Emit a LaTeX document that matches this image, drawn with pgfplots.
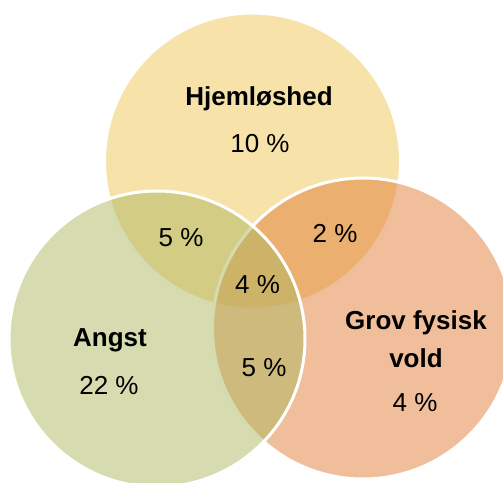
\documentclass[border=0pt]{standalone}
\usepackage{fontspec}
\setmainfont{Liberation Sans}
\usepackage{pgfplots}
\pgfplotsset{compat=1.18}
\definecolor{cHjem}{RGB}{239,197,85}
\definecolor{cGrov}{RGB}{225,125,55}
\definecolor{cAngst}{RGB}{173,183,97}
\begin{document}
\begin{tikzpicture}
\begin{axis}[
  name=ax,
  width=503pt, height=482pt, scale only axis,
  xmin=0, xmax=503, ymin=0, ymax=482,
  y dir=reverse,
  hide axis, clip=true,
]
% Hjemløshed
\filldraw[fill=cHjem, fill opacity=0.5, draw=white, line width=3pt]
  (axis cs:252.5,161) circle [radius=148];
% Grov fysisk vold
\filldraw[fill=cGrov, fill opacity=0.5, draw=white, line width=3pt]
  (axis cs:363,328.5) circle [radius=150.5];
% Angst
\filldraw[fill=cAngst, fill opacity=0.5, draw=white, line width=3pt]
  (axis cs:157,339) circle [radius=148];
\begin{scope}[every node/.style={font=\fontsize{26}{30}\selectfont, text=black, inner sep=0pt}]
\node at (axis cs:259,99) {\bfseries Hjemløshed};
\node at (axis cs:260,144) {10 \%};
\node at (axis cs:181,238) {5 \%};
\node at (axis cs:335,233) {2 \%};
\node at (axis cs:257.5,285) {4 \%};
\node at (axis cs:110,340) {\bfseries Angst};
\node at (axis cs:109,385) {22 \%};
\node at (axis cs:264,368) {5 \%};
\node at (axis cs:416,323) {\bfseries Grov fysisk};
\node at (axis cs:416,358) {\bfseries vold};
\node at (axis cs:415,403) {4 \%};
\end{scope}
\end{axis}
\pgfresetboundingbox
\useasboundingbox (ax.south west) rectangle (ax.north east);
\end{tikzpicture}
\end{document}
